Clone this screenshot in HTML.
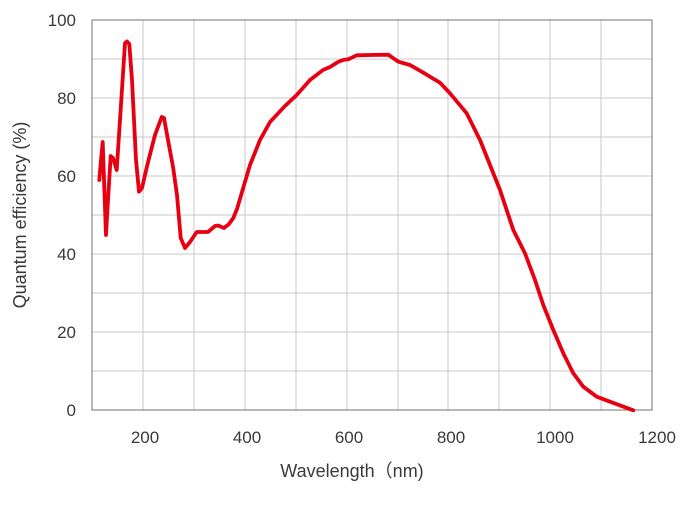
<!DOCTYPE html>
<html><head><meta charset="utf-8"><style>
body{margin:0;background:#fff;width:697px;height:504px;overflow:hidden}
text{font-family:"Liberation Sans",sans-serif;fill:#3a3a3a}
</style></head><body>
<svg width="697" height="504" viewBox="0 0 697 504" xmlns="http://www.w3.org/2000/svg">
<g stroke="#c8c8c8" stroke-width="1">
<line x1="143" y1="20" x2="143" y2="410"/><line x1="194" y1="20" x2="194" y2="410"/><line x1="245" y1="20" x2="245" y2="410"/><line x1="296" y1="20" x2="296" y2="410"/><line x1="347" y1="20" x2="347" y2="410"/><line x1="398" y1="20" x2="398" y2="410"/><line x1="448" y1="20" x2="448" y2="410"/><line x1="499" y1="20" x2="499" y2="410"/><line x1="550" y1="20" x2="550" y2="410"/><line x1="601" y1="20" x2="601" y2="410"/>
<line x1="92" y1="59" x2="652" y2="59"/><line x1="92" y1="98" x2="652" y2="98"/><line x1="92" y1="137" x2="652" y2="137"/><line x1="92" y1="176" x2="652" y2="176"/><line x1="92" y1="215" x2="652" y2="215"/><line x1="92" y1="254" x2="652" y2="254"/><line x1="92" y1="293" x2="652" y2="293"/><line x1="92" y1="332" x2="652" y2="332"/><line x1="92" y1="371" x2="652" y2="371"/>
</g>
<rect x="92" y="20" width="560" height="390" fill="none" stroke="#888" stroke-width="1.2"/>
<polyline fill="none" stroke="#e60012" stroke-width="3.8" stroke-linejoin="round" stroke-linecap="round" points="99.3,180 101,160 102.7,142 104,180 106,235 108,200 110.7,156 113,158 116.7,170 120,120 125,43 127,41.5 129.3,44 132,80 136,160 139,191.7 142,188 147.3,165 155,135 161.7,117 164,118 168,140 173,166.7 177,195 180.7,238 185,248 190,242 196.7,232 204,232 208,232 215,226 218,225.5 224,228 229,224 233.3,218 237,209 241.7,193 250,165 260,140 270,122 285,106 296.7,95 310,80 323,70 330,67 338,62 343,60 348.3,59.3 356.7,55.3 370,55 388.3,54.7 398.3,61.7 410,65 421.7,71.7 440,82.7 450,93.3 466.7,113.3 480,140 500,190 513.3,230 525,253.3 535,280 543.3,305 553.3,330 563.3,353.3 573.3,373.3 583.3,386.7 596.7,396.7 610,401.7 633.3,410.3"/>
<g font-size="17" text-anchor="end">
<text x="76" y="416">0</text><text x="76" y="338">20</text><text x="76" y="260">40</text><text x="76" y="182">60</text><text x="76" y="104">80</text><text x="76" y="26">100</text>
</g>
<g font-size="17" text-anchor="middle">
<text x="145" y="443">200</text><text x="247" y="443">400</text><text x="349" y="443">600</text><text x="451" y="443">800</text><text x="555" y="443">1000</text><text x="657" y="443">1200</text>
</g>
<text x="352" y="477" font-size="18" text-anchor="middle">Wavelength（nm)</text>
<text transform="translate(26,215) rotate(-90)" font-size="18" text-anchor="middle">Quantum efficiency (%)</text>
</svg>
</body></html>
